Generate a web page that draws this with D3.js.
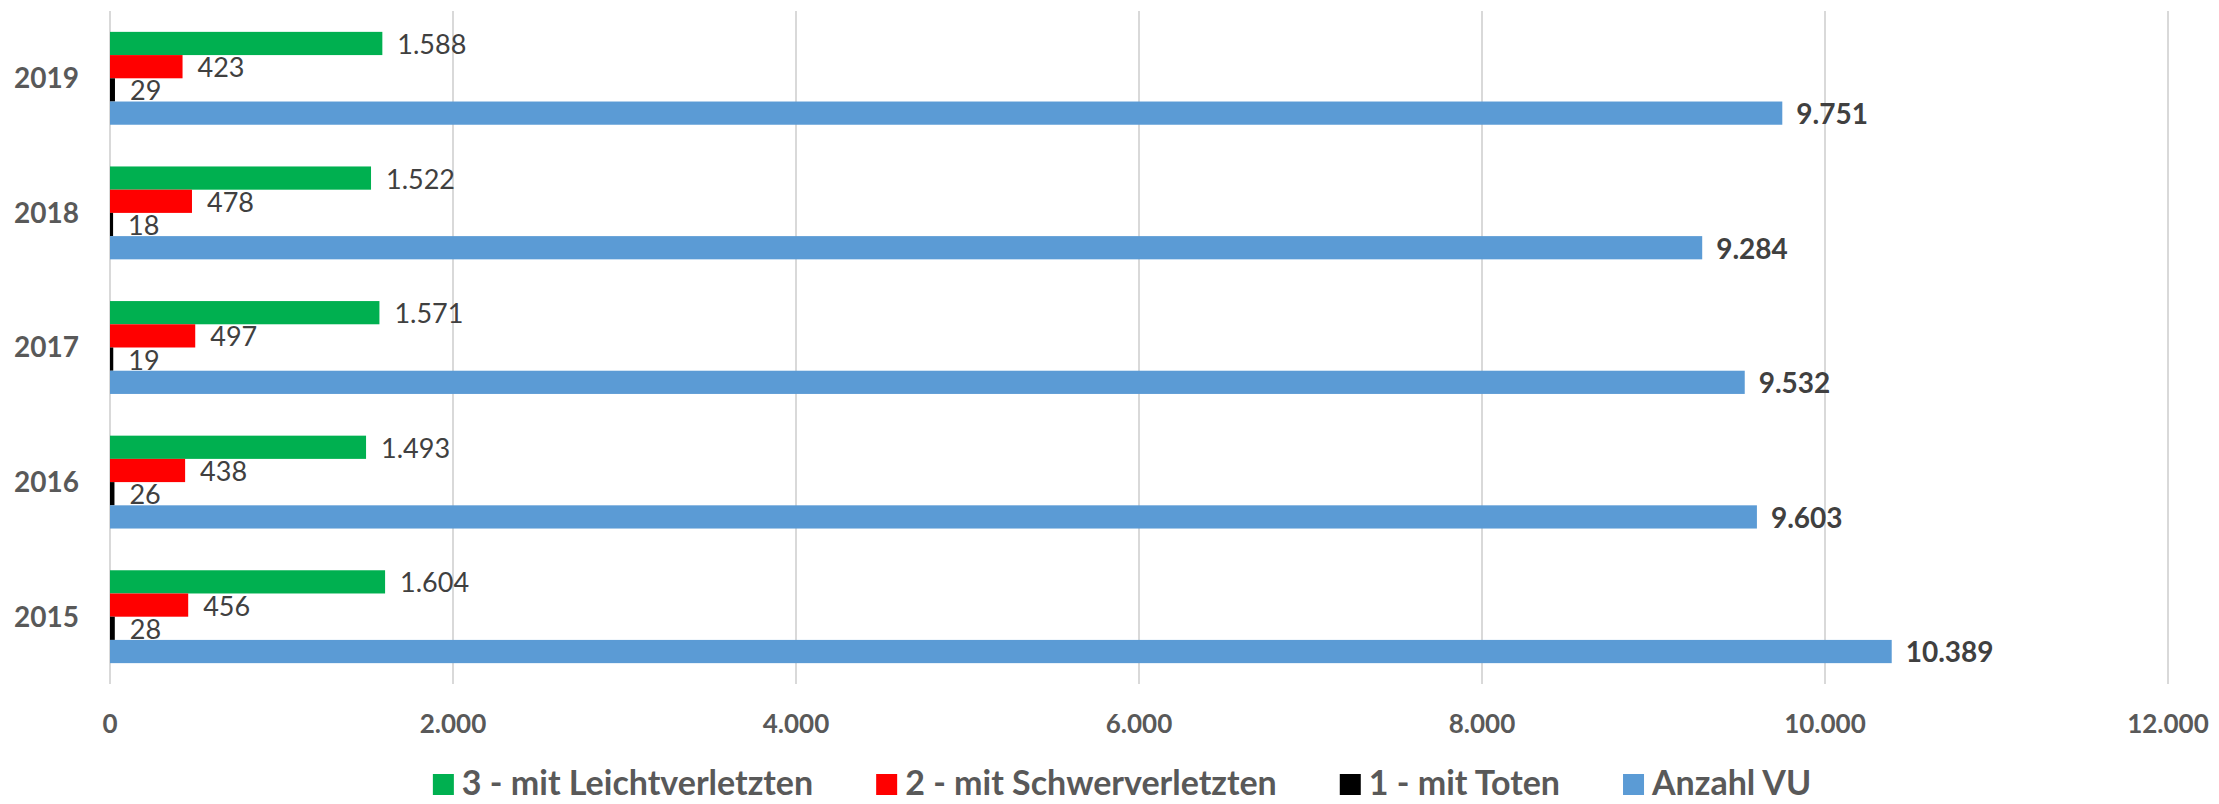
<!DOCTYPE html>
<html>
<head>
<meta charset="utf-8">
<script src="https://cdnjs.cloudflare.com/ajax/libs/d3/7.8.5/d3.min.js"></script>
<style>
  body { margin: 0; background: #fff; }
  svg text { font-family: Lato, 'Open Sans', sans-serif; }
</style>
</head>
<body>
<svg></svg>
<script>
'use strict';
// Data
var years = ['2019', '2018', '2017', '2016', '2015'];
var seriesNames = ['3 - mit Leichtverletzten', '2 - mit Schwerverletzten', '1 - mit Toten', 'Anzahl VU'];
var seriesColors = ['#00b050', '#ff0000', '#000000', '#5b9bd5'];
var leicht = [1588, 1522, 1571, 1493, 1604];
var schwer = [423, 478, 497, 438, 456];
var toten = [29, 18, 19, 26, 28];
var anzahlVU = [9751, 9284, 9532, 9603, 10389];
var xTicks = [0, 2000, 4000, 6000, 8000, 10000, 12000];

var seriesValues = [leicht, schwer, toten, anzahlVU];

var canvasWidth = 2219,
  canvasHeight = 804,
  margin = { top: 11, right: 51, bottom: 120, left: 110 },
  width = canvasWidth - margin.left - margin.right,
  height = canvasHeight - margin.top - margin.bottom,
  svg = d3.select('svg')
    .attr('width', canvasWidth)
    .attr('height', canvasHeight),
  graphArea = svg.append('g')
    .attr('transform', 'translate(' + margin.left + ',' + margin.top + ')');

// German number format: 1.588
var fmt = d3.formatLocale({ decimal: ',', thousands: '.', grouping: [3], currency: ['', ' €'] }).format(',d');

var xScale = d3.scaleLinear()
  .domain([0, 12000])
  .range([0, width]);

var yScale = d3.scaleBand()
  .domain(years)
  .range([0, height])
  .paddingInner(0.31)
  .paddingOuter(0.155);

var innerScale = d3.scaleBand()
  .domain(seriesNames)
  .range([0, yScale.bandwidth()]);

// gridlines
graphArea.append('g')
  .selectAll('line')
  .data(xTicks)
  .enter().append('line')
    .attr('x1', function(d) { return xScale(d); })
    .attr('x2', function(d) { return xScale(d); })
    .attr('y1', 0)
    .attr('y2', height)
    .style('stroke', '#d9d9d9')
    .style('stroke-width', 2);

// x tick labels
graphArea.append('g')
  .selectAll('text')
  .data(xTicks)
  .enter().append('text')
    .attr('x', function(d) { return xScale(d); })
    .attr('y', height + 40)
    .attr('dy', '0.35em')
    .style('text-anchor', 'middle')
    .style('font-size', '26px')
    .style('font-weight', 'bold')
    .style('fill', '#595959')
    .text(function(d) { return fmt(d); });

// year labels
graphArea.append('g')
  .selectAll('text')
  .data(years)
  .enter().append('text')
    .attr('x', -31)
    .attr('y', function(d) { return yScale(d) + yScale.bandwidth() / 2; })
    .attr('dy', '0.35em')
    .style('text-anchor', 'end')
    .style('font-size', '28px')
    .style('font-weight', 'bold')
    .style('fill', '#595959')
    .text(function(d) { return d; });

// bars + labels, one group per series
seriesNames.forEach(function(name, si) {
  var rows = years.map(function(y, i) { return { year: y, value: seriesValues[si][i] }; });
  var g = graphArea.append('g');
  var isTotal = si === 3;

  g.selectAll('rect')
    .data(rows)
    .enter().append('rect')
      .attr('x', xScale(0))
      .attr('y', function(d) { return yScale(d.year) + innerScale(name); })
      .attr('width', function(d) { return xScale(d.value) - xScale(0); })
      .attr('height', innerScale.bandwidth())
      .style('fill', seriesColors[si]);

  g.selectAll('text')
    .data(rows)
    .enter().append('text')
      .attr('x', function(d) { return xScale(d.value) + (isTotal ? 14 : 15); })
      .attr('y', function(d) { return yScale(d.year) + innerScale(name) + innerScale.bandwidth() / 2 + 1; })
      .attr('dy', '0.35em')
      .style('font-size', isTotal ? '28px' : '27px')
      .style('font-weight', isTotal ? 'bold' : 'normal')
      .style('fill', '#404040')
      .text(function(d) { return fmt(d.value); });
});

// legend, laid out left to right and centred under the chart
var legendCenter = 1122,
  legendBaseline = 795,
  swatch = 21,
  swatchGap = 8,
  itemGap = 63;

var legend = svg.append('g');
var items = legend.selectAll('g')
  .data(seriesNames)
  .enter().append('g');

items.append('rect')
  .attr('x', 0)
  .attr('y', legendBaseline - swatch)
  .attr('width', swatch)
  .attr('height', swatch)
  .style('fill', function(d, i) { return seriesColors[i]; });

items.append('text')
  .attr('x', swatch + swatchGap)
  .attr('y', legendBaseline)
  .style('font-size', '34px')
  .style('font-weight', 'bold')
  .style('fill', '#595959')
  .text(function(d) { return d; });

var offsets = [], cursor = 0;
items.each(function() {
  var w = swatch + swatchGap + d3.select(this).select('text').node().getComputedTextLength();
  offsets.push(cursor);
  cursor += w + itemGap;
});
var total = cursor - itemGap;
items.attr('transform', function(d, i) {
  return 'translate(' + (legendCenter - total / 2 + offsets[i]) + ',0)';
});
</script>
</body>
</html>
